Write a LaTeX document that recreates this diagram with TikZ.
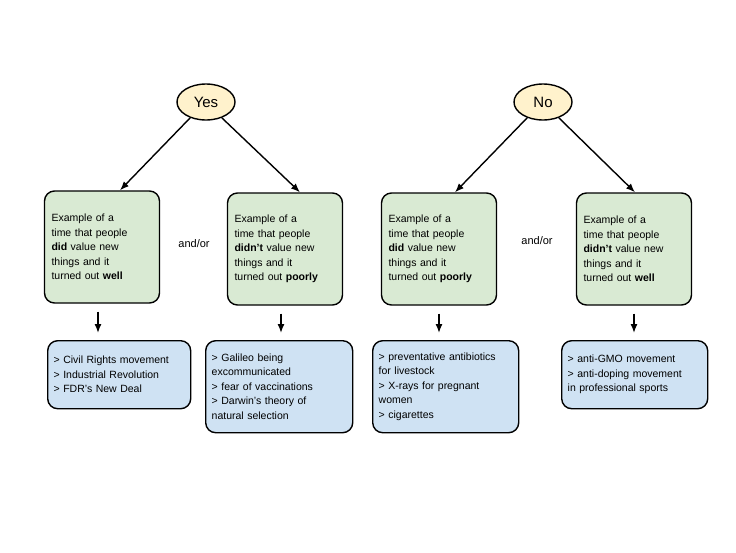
\documentclass[tikz,border=0pt]{standalone}
\usepackage{fontspec}
\setmainfont{Liberation Sans}
\usetikzlibrary{shapes.geometric, arrows.meta}
\definecolor{answerfill}{HTML}{FFF2CC}
\definecolor{greenfill}{HTML}{D9EAD3}
\definecolor{bluefill}{HTML}{CFE2F3}
\begin{document}
\begin{tikzpicture}[
    x = 1pt, y = -1pt,
    line width = 1.4pt,
    answer/.style = {draw, ellipse, fill = answerfill,
      font = \fontsize{15}{18}\selectfont,
      minimum width = 58pt, minimum height = 36pt, inner sep = 0pt},
    question/.style = {draw, rounded corners = 10pt, fill = greenfill,
      font = \fontsize{10.5}{14.5}\selectfont, align = left,
      text width = 101pt, minimum width = 115pt, minimum height = 112pt,
      inner sep = 7pt},
    example/.style = {draw, rounded corners = 10pt, fill = bluefill,
      font = \fontsize{10.5}{14.5}\selectfont, align = left,
      inner sep = 6pt, anchor = north west},
    link/.style = {-{Latex[length = 9pt, width = 7pt]}},
    conj/.style = {font = \fontsize{11}{13}\selectfont},
    ]
    \useasboundingbox (0, 0) rectangle (736, 552);

    \node at (206, 102) [answer, name = yes] {Yes};
    \node at (543, 102) [answer, name = no] {No};

    \node at (102, 247) [question, name = q_did_well]
    {Example of a\\time that people\\\textbf{did} value new\\things and it\\turned out \textbf{well}};
    \node at (285, 249) [question, name = q_didnt_poorly]
    {Example of a\\time that people\\\textbf{didn't} value new\\things and it\\turned out \textbf{poorly}};
    \node at (439, 249) [question, name = q_did_poorly]
    {Example of a\\time that people\\\textbf{did} value new\\things and it\\turned out \textbf{poorly}};
    \node at (634, 249) [question, name = q_didnt_well]
    {Example of a\\time that people\\\textbf{didn't} value new\\things and it\\turned out \textbf{well}};

    \node at (194, 244) [conj, name = andor_l] {and/or};
    \node at (537, 241) [conj, name = andor_r] {and/or};

    \node at (47, 340) [example, text width = 131pt, minimum height = 68pt, name = e_1]
    {> Civil Rights movement\\> Industrial Revolution\\> FDR's New Deal};
    \node at (205, 340) [example, text width = 135pt, minimum height = 92pt, name = e_2]
    {> Galileo being\\excommunicated\\> fear of vaccinations\\> Darwin's theory of\\natural selection};
    \node at (372, 340) [example, text width = 134pt, minimum height = 92pt, name = e_3]
    {> preventative antibiotics\\for livestock\\> X-rays for pregnant\\women\\> cigarettes};
    \node at (561, 340) [example, text width = 134pt, minimum height = 68pt, name = e_4]
    {> anti-GMO movement\\> anti-doping movement\\in professional sports};

    \draw [link] (yes.225) to (q_did_well.north -| 120, 0);
    \draw [link] (yes.315) to (q_didnt_poorly.north -| 300, 0);
    \draw [link] (no.225) to (q_did_poorly.north -| 455, 0);
    \draw [link] (no.315) to (q_didnt_well.north -| 635, 0);

    \draw [link] ([yshift = -8pt] q_did_well.south -| 98, 0) to ([yshift = 7pt] e_1.north -| 98, 0);
    \draw [link] ([yshift = -8pt] q_didnt_poorly.south -| 281, 0) to ([yshift = 7pt] e_2.north -| 281, 0);
    \draw [link] ([yshift = -8pt] q_did_poorly.south -| 439, 0) to ([yshift = 7pt] e_3.north -| 439, 0);
    \draw [link] ([yshift = -8pt] q_didnt_well.south -| 634, 0) to ([yshift = 7pt] e_4.north -| 634, 0);
\end{tikzpicture}
\end{document}
